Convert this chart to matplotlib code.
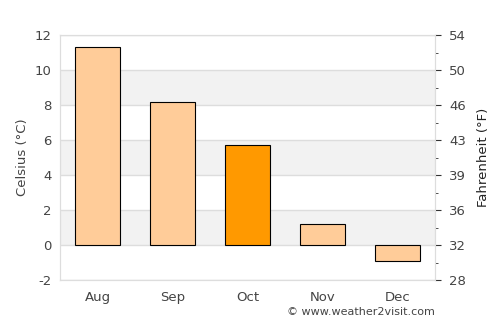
import numpy as np
import matplotlib
matplotlib.use("Agg")
import matplotlib.pyplot as plt

plt.rcParams["axes.unicode_minus"] = False

months = ["Aug", "Sep", "Oct", "Nov", "Dec"]
temps_c = [11.3, 8.2, 5.7, 1.2, -0.9]
bar_colors = ["#ffcc99", "#ffcc99", "#ff9900", "#ffcc99", "#ffcc99"]
c_ticks = [-2, 0, 2, 4, 6, 8, 10, 12]
f_labels = ["28", "32", "36", "39", "43", "46", "50", "54"]

text_col = "#444444"
grid_col = "#dddddd"

fig = plt.figure(figsize=(5, 3.25), dpi=100)
ax = fig.add_axes([0.12, 0.138, 0.75, 0.754])

# alternating bands
for lo in (0, 4, 8):
    ax.axhspan(lo, lo + 2, color="#f2f2f2", zorder=0, lw=0)
for t in c_ticks:
    ax.axhline(t, color=grid_col, lw=1, zorder=1)

x = np.arange(len(months))
ax.bar(x, temps_c, width=0.6, color=bar_colors, edgecolor="black", linewidth=0.8, zorder=3)

ax.set_xlim(-0.5, 4.5)
ax.set_ylim(-2, 12)
ax.set_xticks(x)
ax.set_xticklabels(months)
ax.set_yticks(c_ticks)
ax.tick_params(axis="both", length=0, colors=text_col, labelsize=9.5, pad=8)
ax.tick_params(axis="y", pad=6)
ax.set_ylabel("Celsius (°C)", color=text_col, fontsize=9.5)
for s in ax.spines.values():
    s.set_color(grid_col)

ax2 = ax.twinx()
ax2.set_ylim(-2, 12)
ax2.set_yticks(c_ticks)
ax2.set_yticklabels(f_labels)
ax2.set_yticks(np.arange(-1, 12, 2), minor=True)
ax2.tick_params(axis="y", which="major", length=4, colors=text_col, labelsize=9.5, pad=6)
ax2.tick_params(axis="y", which="minor", length=2)
ax2.tick_params(axis="y", which="both", color="#333333")
ax2.set_ylabel("Fahrenheit (°F)", color="#222222", fontsize=9.5, labelpad=8)
for s in ax2.spines.values():
    s.set_color(grid_col)

fig.text(0.87, 0.025, "© www.weather2visit.com", ha="right", va="bottom",
         color=text_col, fontsize=8)

fig.savefig("out.png", dpi=100)
